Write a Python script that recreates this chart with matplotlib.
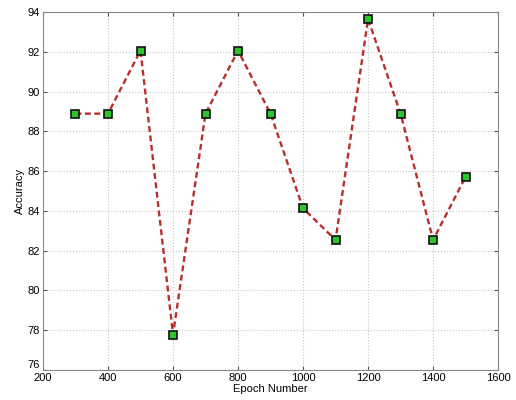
import numpy as np
import matplotlib.pyplot as plt
import matplotlib.transforms as mtransforms

plt.rcParams['font.family'] = ['Liberation Sans', 'DejaVu Sans']

epochs = [300, 400, 500, 600, 700, 800, 900, 1000, 1100, 1200, 1300, 1400, 1500]
accuracy = [88.89, 88.89, 92.06, 77.78, 88.89, 92.06, 88.89, 84.13, 82.54, 93.65, 88.89, 82.54, 85.71]

fig = plt.figure(figsize=(5.16, 4.0), dpi=100)
ax = fig.add_axes([0.0833, 0.075, 0.882, 0.895])

ax.plot(epochs, accuracy, linestyle='--', dashes=(2.5, 1.5), color='#b8302c', linewidth=1.7,
        marker='s', markersize=6, markerfacecolor='#2dc42d',
        markeredgecolor='#111111', markeredgewidth=1.2)

ax.set_xlim(200, 1600)
ax.set_ylim(76, 94)
ax.set_xticks(np.arange(200, 1601, 200))
ax.set_yticks(np.arange(76, 95, 2))
ax.grid(True, linestyle=':', color='#c4c4c4', linewidth=0.8)
ax.tick_params(direction='in', top=True, right=True, labelsize=8, length=3,
               color='#555555', pad=2)
for s in ax.spines.values():
    s.set_color('#888888')
    s.set_linewidth(0.8)

# matlab-style: lowest y label sits a little above the corner
lbl = ax.get_yticklabels()[0]
lbl.set_transform(lbl.get_transform() + mtransforms.ScaledTranslation(0, 4 / 72, fig.dpi_scale_trans))

ax.set_xlabel('Epoch Number', fontsize=8, labelpad=1)
ax.set_ylabel('Accuracy', fontsize=8, labelpad=2)

fig.savefig('out.png', dpi=100)
